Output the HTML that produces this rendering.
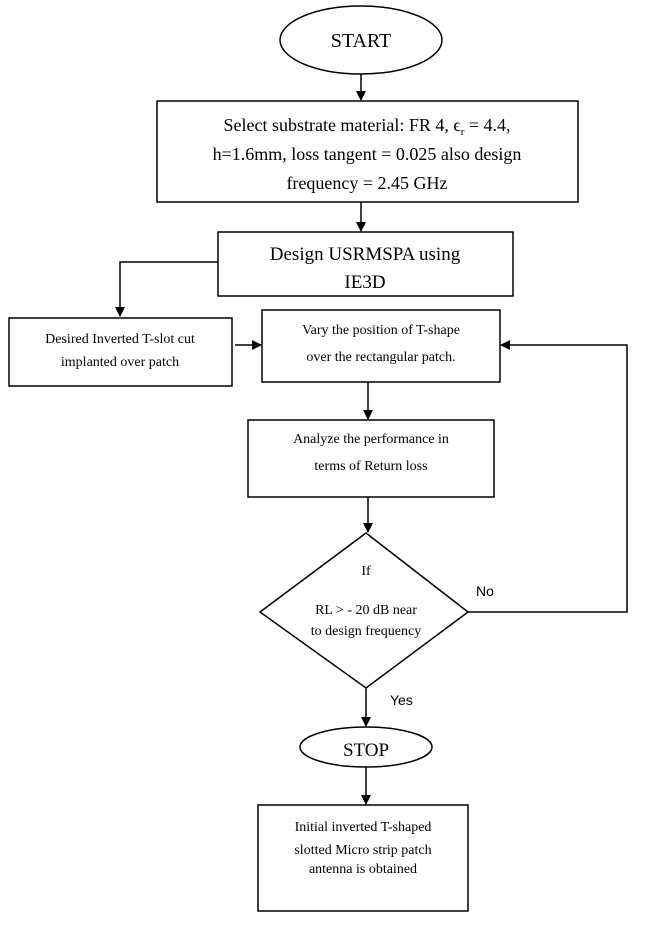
<!DOCTYPE html>
<html><head><meta charset="utf-8"><style>
html,body{margin:0;padding:0;background:#fff;}
svg text{font-family:"Liberation Serif",serif;fill:#000;}
</style></head><body>
<svg width="671" height="928" viewBox="0 0 671 928" xmlns="http://www.w3.org/2000/svg">
<defs><marker id="a" markerWidth="10" markerHeight="10" refX="9" refY="5" orient="auto" markerUnits="userSpaceOnUse"><path d="M0,0 L10,5 L0,10 z" fill="#000"/></marker></defs>
<g fill="none" stroke="#000" stroke-width="1.5">
<ellipse cx="361" cy="40" rx="81" ry="34"/>
<rect x="157" y="101" width="421" height="101"/>
<rect x="218" y="232" width="295" height="64"/>
<rect x="9" y="318" width="223" height="68"/>
<rect x="262" y="310" width="238" height="72"/>
<rect x="248" y="420" width="246" height="77"/>
<polygon points="366,533 468,612 366,688 260,612"/>
<ellipse cx="366" cy="747" rx="66" ry="20"/>
<rect x="258" y="805" width="210" height="106"/>
<line x1="361" y1="74" x2="361" y2="100" marker-end="url(#a)"/>
<line x1="361" y1="202" x2="361" y2="231" marker-end="url(#a)"/>
<polyline points="218,262 120,262 120,316" marker-end="url(#a)"/>
<line x1="235" y1="345" x2="261" y2="345" marker-end="url(#a)"/>
<polyline points="468,612 627,612 627,345 501,345" marker-end="url(#a)"/>
<line x1="368" y1="382" x2="368" y2="419" marker-end="url(#a)"/>
<line x1="368" y1="497" x2="368" y2="532" marker-end="url(#a)"/>
<line x1="366" y1="688" x2="366" y2="726" marker-end="url(#a)"/>
<line x1="366" y1="767" x2="366" y2="804" marker-end="url(#a)"/>
</g>
<text x="361" y="47" font-size="20" text-anchor="middle">START</text>
<g font-size="18" text-anchor="middle">
<text x="367" y="131">Select substrate material: FR 4, ϵ<tspan font-size="11" dy="4">r</tspan><tspan dy="-4"> = 4.4,</tspan></text>
<text x="367" y="160">h=1.6mm, loss tangent = 0.025 also design</text>
<text x="367" y="189">frequency = 2.45 GHz</text>
<text x="365" y="260" font-size="19">Design USRMSPA using</text>
<text x="365" y="288" font-size="19">IE3D</text>
</g>
<g font-size="14" text-anchor="middle">
<text x="120" y="343">Desired Inverted T-slot cut</text>
<text x="120" y="366">implanted over patch</text>
<text x="381" y="334">Vary the position of T-shape</text>
<text x="381" y="361">over the rectangular patch.</text>
<text x="371" y="443">Analyze the performance in</text>
<text x="371" y="470">terms of Return loss</text>
<text x="366" y="575">If</text>
<text x="366" y="614">RL &gt; - 20 dB near</text>
<text x="366" y="635">to design frequency</text>
<text x="363" y="831">Initial inverted T-shaped</text>
<text x="363" y="854">slotted Micro strip patch</text>
<text x="363" y="873">antenna is obtained</text>
</g>
<text x="366" y="756" font-size="19" text-anchor="middle">STOP</text>
<text x="476" y="596" font-size="14" style="font-family:'Liberation Sans',sans-serif">No</text>
<text x="390" y="705" font-size="14" style="font-family:'Liberation Sans',sans-serif">Yes</text>
</svg>
</body></html>
